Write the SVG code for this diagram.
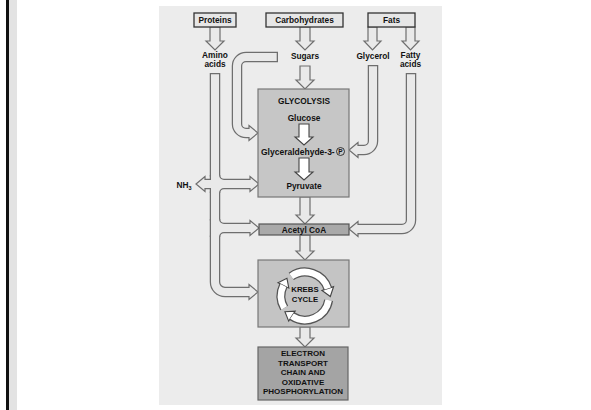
<svg xmlns="http://www.w3.org/2000/svg" width="591" height="410" viewBox="0 0 591 410">
<style>
text{font-family:"Liberation Sans",Arial,sans-serif;font-weight:bold;font-size:8.3px;fill:#111;text-anchor:middle}
.src{fill:#e6e6e6;stroke:#333;stroke-width:1.3}
.po{fill:none;stroke:#6e6e6e;stroke-width:10.5;stroke-linecap:butt}
.pi{fill:none;stroke:#e9e9e9;stroke-width:8;stroke-linecap:butt}
.hd{fill:#e9e9e9;stroke:#6e6e6e;stroke-width:1.2;stroke-linejoin:miter}
.wa{fill:#fff;stroke:#444;stroke-width:1.1}
.ro{fill:none;stroke:#555;stroke-width:9}
.ri{fill:none;stroke:#fff;stroke-width:6.5}
</style>
<rect x="0" y="0" width="591" height="410" fill="#fff"/>
<rect x="6" y="0" width="3" height="410" fill="#111"/>
<rect x="9" y="0" width="8" height="410" fill="#e3e3e3"/>
<rect x="159" y="6" width="283" height="399" fill="#ececec"/>

<g id="connectors">
  <!-- pipe outlines -->
  <path class="po" d="M215,73 V282 A10,10 0 0 0 225,292 H250"/>
  <path class="po" d="M215,175 A9,9 0 0 0 224,184 H250 M215,193 A9,9 0 0 1 224,184"/>
  <path class="po" d="M215,184 H205"/>
  <path class="po" d="M215,219 A9,9 0 0 0 224,228 H250 M215,237 A9,9 0 0 1 224,228"/>
  <path class="po" d="M373,65 V141 A9,9 0 0 1 364,150 H358"/>
  <path class="po" d="M411,73 V220 A9,9 0 0 1 402,229 H358"/>
  <path class="po" d="M278,57 H246 A9,9 0 0 0 237,66 V124 A9,9 0 0 0 246,133 H249"/>
  <!-- heads -->
  <polygon class="hd" points="250,176.5 259,184 250,191.5"/>
  <polygon class="hd" points="250,220.5 259,228 250,235.5"/>
  <polygon class="hd" points="249,284.5 258,292 249,299.5"/>
  <polygon class="hd" points="205,176.5 196,184 205,191.5"/>
  <polygon class="hd" points="249,125.5 258,133 249,140.5"/>
  <polygon class="hd" points="358,142.5 349,150 358,157.5"/>
  <polygon class="hd" points="358,221.5 349,229 358,236.5"/>
  <!-- pipe interiors -->
  <path class="pi" d="M215,74.3 V282 A10,10 0 0 0 225,292 H251"/>
  <path class="pi" d="M215,175 A9,9 0 0 0 224,184 H251.5 M215,193 A9,9 0 0 1 224,184"/>
  <path class="pi" d="M215,184 H203.8"/>
  <path class="pi" d="M215,219 A9,9 0 0 0 224,228 H251.5 M215,237 A9,9 0 0 1 224,228"/>
  <path class="pi" d="M373,66.3 V141 A9,9 0 0 1 364,150 H356.5"/>
  <path class="pi" d="M411,74.3 V220 A9,9 0 0 1 402,229 H356.5"/>
  <path class="pi" d="M276.7,57 H246 A9,9 0 0 0 237,66 V124 A9,9 0 0 0 246,133 H250.5"/>
  <!-- straight hollow down arrows -->
  <polygon class="hd" points="210,27 220,27 220,41 224,41 215,50 206,41 210,41"/>
  <polygon class="hd" points="300,27 310,27 310,41 314,41 305,50 296,41 300,41"/>
  <polygon class="hd" points="368,27 377,27 377,41 381,41 372.5,50 364,41 368,41"/>
  <polygon class="hd" points="406,27 415,27 415,41 419,41 410.5,50 402,41 406,41"/>
  <polygon class="hd" points="300,66 310,66 310,80 314,80 305,89 296,80 300,80"/>
  <polygon class="hd" points="300,197 310,197 310,215 314,215 305,224 296,215 300,215"/>
  <polygon class="hd" points="300,235 310,235 310,251 314,251 305,260 296,251 300,251"/>
  <polygon class="hd" points="300,327 310,327 310,338 314,338 305,347 296,338 300,338"/>
</g>

<g id="proteins"><rect class="src" x="194" y="13" width="42" height="14"/><text x="215" y="23">Proteins</text></g>
<g id="carbohydrates"><rect class="src" x="266" y="13" width="77" height="14"/><text x="304.5" y="23">Carbohydrates</text></g>
<g id="fats"><rect class="src" x="368" y="13" width="47" height="14"/><text x="391.5" y="23">Fats</text></g>
<g id="amino-acids"><text x="215" y="58">Amino</text><text x="215" y="67">acids</text></g>
<g id="sugars"><text x="305" y="59">Sugars</text></g>
<g id="glycerol"><text x="373" y="59">Glycerol</text></g>
<g id="fatty-acids"><text x="410.5" y="58">Fatty</text><text x="410.5" y="67">acids</text></g>
<g id="nh3"><text x="184" y="187.5">NH<tspan style="font-size:5.5px" dy="2">3</tspan></text></g>

<g id="glycolysis">
  <rect x="258" y="89" width="91" height="108" fill="#c6c6c6" stroke="#777" stroke-width="1.2"/>
  <text x="304" y="104">GLYCOLYSIS</text>
  <text x="304" y="121">Glucose</text>
  <polygon class="wa" points="299,124 309,124 309,137 313,137 304,145 295,137 299,137"/>
  <text x="261" y="154.5" style="font-size:8.5px;text-anchor:start">Glyceraldehyde-3-</text>
  <circle cx="340.5" cy="151.5" r="4" fill="none" stroke="#111" stroke-width="0.8"/>
  <text x="340.5" y="154" style="font-size:6.5px">P</text>
  <polygon class="wa" points="299,158 309,158 309,172 313,172 304,180 295,172 299,172"/>
  <text x="304" y="189">Pyruvate</text>
</g>

<g id="acetyl-coa">
  <rect x="259" y="224" width="90" height="11" fill="#a9a9a9" stroke="#555" stroke-width="1.2"/>
  <text x="304" y="232.5">Acetyl CoA</text>
</g>

<g id="krebs">
  <rect x="258" y="260" width="91" height="67" fill="#c4c4c4" stroke="#777" stroke-width="1.2"/>
  <path class="ro" d="M291.24,276.34 A24,24 0 0 1 327.83,288.58 M328.64,300.17 A24,24 0 0 1 291.93,316.13 M284.22,308.00 A24,24 0 0 1 283.43,285.48"/>
  <polygon class="wa" points="333.54,286.73 330.31,296.52 321.93,290.47"/>
  <polygon class="wa" points="288.70,321.16 284.93,311.82 295.18,311.13"/>
  <polygon class="wa" points="278.04,282.86 286.94,278.29 288.82,288.12"/>
  <path class="ri" d="M291.24,276.34 A24,24 0 0 1 327.83,288.58 M328.64,300.17 A24,24 0 0 1 291.93,316.13 M284.22,308.00 A24,24 0 0 1 283.43,285.48"/>
  <text x="305" y="292" style="font-size:7.8px">KREBS</text>
  <text x="305" y="302" style="font-size:7.8px">CYCLE</text>
</g>

<g id="etc">
  <rect x="258" y="347" width="90" height="53" fill="#a4a4a4" stroke="#666" stroke-width="1.2"/>
  <text x="303" y="356" style="font-size:8px">ELECTRON</text>
  <text x="303" y="366" style="font-size:8px">TRANSPORT</text>
  <text x="303" y="375" style="font-size:8px">CHAIN AND</text>
  <text x="303" y="385" style="font-size:8px">OXIDATIVE</text>
  <text x="303" y="394" style="font-size:8px">PHOSPHORYLATION</text>
</g>
</svg>
